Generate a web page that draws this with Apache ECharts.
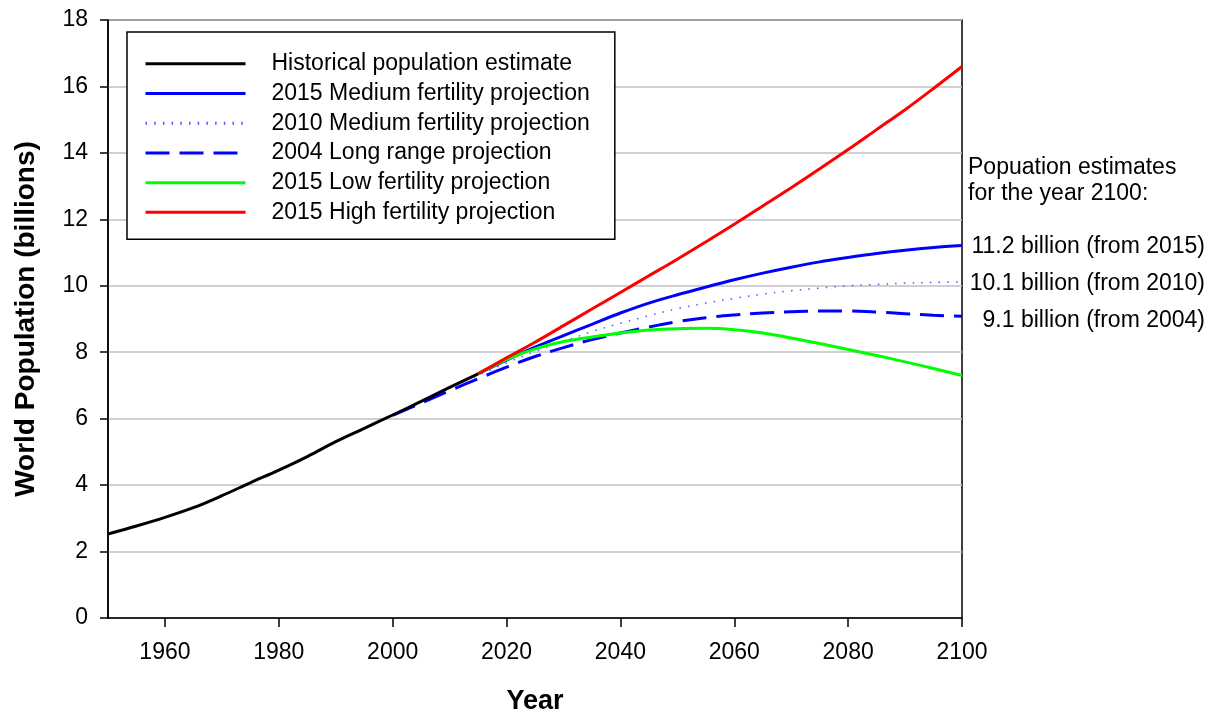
<!DOCTYPE html>
<html>
<head>
<meta charset="utf-8">
<script src="https://cdn.jsdelivr.net/npm/echarts@6/dist/echarts.min.js"></script>
<style>
  html, body { margin: 0; padding: 0; background: #fff; }
  #chart { width: 1215px; height: 713px; }
</style>
</head>
<body>
<div id="chart"></div>
<script>
// ---- data (billions) ----
const histYears   = [1950, 1955, 1960, 1965, 1970, 1975, 1980, 1985, 1990, 1995, 2000, 2005, 2010, 2015];
const histValues  = [2.53, 2.77, 3.03, 3.32, 3.68, 4.07, 4.45, 4.86, 5.31, 5.71, 6.11, 6.52, 6.94, 7.35];

const projYears   = [2015, 2020, 2025, 2030, 2035, 2040, 2045, 2050, 2055, 2060, 2065, 2070, 2075, 2080, 2085, 2090, 2095, 2100];
const med2015     = [7.35, 7.76, 8.15, 8.50, 8.84, 9.18, 9.48, 9.73, 9.96, 10.18, 10.38, 10.56, 10.72, 10.85, 10.97, 11.07, 11.15, 11.21];
const low2015     = [7.35, 7.78, 8.10, 8.32, 8.46, 8.58, 8.67, 8.71, 8.72, 8.68, 8.58, 8.43, 8.26, 8.08, 7.90, 7.71, 7.51, 7.30];
const high2015    = [7.35, 7.83, 8.30, 8.80, 9.30, 9.80, 10.30, 10.80, 11.32, 11.85, 12.40, 12.95, 13.52, 14.10, 14.70, 15.30, 15.94, 16.60];

const med2010Years  = [2010, 2015, 2020, 2025, 2030, 2035, 2040, 2045, 2050, 2055, 2060, 2065, 2070, 2075, 2080, 2085, 2090, 2095, 2100];
const med2010       = [6.93, 7.30, 7.68, 8.02, 8.32, 8.62, 8.87, 9.10, 9.31, 9.48, 9.62, 9.75, 9.85, 9.93, 10.00, 10.04, 10.08, 10.10, 10.12];

const lr2004Years   = [2000, 2005, 2010, 2015, 2020, 2025, 2030, 2035, 2040, 2045, 2050, 2055, 2060, 2065, 2070, 2075, 2080, 2085, 2090, 2095, 2100];
const lr2004        = [6.10, 6.47, 6.84, 7.20, 7.55, 7.87, 8.14, 8.38, 8.58, 8.76, 8.92, 9.04, 9.12, 9.18, 9.22, 9.24, 9.24, 9.21, 9.16, 9.11, 9.08];

const xTickLabels = [1960, 1980, 2000, 2020, 2040, 2060, 2080, 2100];

const seriesNames = [
  'Historical population estimate',
  '2015 Medium fertility projection',
  '2010 Medium fertility projection',
  '2004 Long range projection',
  '2015 Low fertility projection',
  '2015 High fertility projection'
];

const noteLines = ['Popuation estimates', 'for the year 2100:'];
const endNotes = ['11.2 billion (from 2015)', '10.1 billion (from 2010)', '9.1 billion (from 2004)'];

function pairs(xs, ys) { return xs.map((x, i) => [x, ys[i]]); }

const FONT = 'Liberation Sans, Arial, sans-serif';
const chart = echarts.init(document.getElementById('chart'), null, { renderer: 'canvas' });

function line(name, xs, ys, color, width, type, z) {
  return {
    name: name, type: 'line', data: pairs(xs, ys),
    symbol: 'none', showSymbol: false, smooth: 0.35, z: z,
    lineStyle: { color: color, width: width, type: type },
    itemStyle: { color: color },
    emphasis: { disabled: true },
    animation: false
  };
}

const option = {
  animation: false,
  backgroundColor: '#fff',
  grid: { left: 108, right: 253, top: 20, bottom: 95, show: true, borderColor: '#000', borderWidth: 1.5,
          containLabel: false, outerBoundsMode: 'none' },
  xAxis: {
    type: 'value', min: 1950, max: 2100,
    name: 'Year', nameLocation: 'middle', nameGap: 70,
    nameTextStyle: { fontFamily: FONT, fontSize: 27, fontWeight: 'bold', color: '#000' },
    axisLine: { lineStyle: { color: '#000', width: 1.5 } },
    axisTick: { show: true, length: 9, customValues: xTickLabels, lineStyle: { color: '#000', width: 1.5 } },
    axisLabel: { customValues: xTickLabels, formatter: v => String(v), margin: 23, fontFamily: FONT, fontSize: 23, color: '#000' },
    splitLine: { show: false }
  },
  yAxis: {
    type: 'value', min: 0, max: 18, interval: 2,
    name: 'World Population (billions)', nameLocation: 'middle', nameGap: 68,
    nameTextStyle: { fontFamily: FONT, fontSize: 28, fontWeight: 'bold', color: '#000' },
    axisLine: { show: true, lineStyle: { color: '#000', width: 1.5 } },
    axisTick: { show: true, length: 8, lineStyle: { color: '#000', width: 1.5 } },
    axisLabel: { margin: 20, fontFamily: FONT, fontSize: 23, color: '#000' },
    splitLine: { show: true, lineStyle: { color: '#c0c0c0', width: 1.5 } }
  },
  legend: {
    data: seriesNames,
    orient: 'vertical', left: 127, top: 32,
    backgroundColor: '#fff', borderColor: '#000', borderWidth: 1.5, borderRadius: 0,
    padding: [17, 25, 12, 17],
    itemWidth: 100, itemHeight: 14, itemGap: 0,
    itemStyle: { opacity: 0 },
    lineStyle: { width: 3 },
    textStyle: { fontFamily: FONT, fontSize: 23, color: '#000', lineHeight: 29.7, padding: [0, 0, 0, 21] },
    selectedMode: false
  },
  series: [
    line(seriesNames[3], lr2004Years, lr2004, '#0000ff', 3, [24, 10], 2),
    line(seriesNames[2], med2010Years, med2010, '#5555ff', 1.5, [1.5, 7.2], 3),
    line(seriesNames[1], projYears, med2015, '#0000ff', 3, 'solid', 4),
    line(seriesNames[4], projYears, low2015, '#00ff00', 3, 'solid', 5),
    line(seriesNames[5], projYears, high2015, '#ff0000', 3, 'solid', 6),
    line(seriesNames[0], histYears, histValues, '#000000', 3, 'solid', 7)
  ],
  graphic: [
    { type: 'text', left: 968, top: 156, style: { text: noteLines[0], font: '23px ' + FONT, fill: '#000' } },
    { type: 'text', left: 968, top: 182, style: { text: noteLines[1], font: '23px ' + FONT, fill: '#000' } },
    { type: 'text', right: 10, top: 235, style: { text: endNotes[0], font: '23px ' + FONT, fill: '#000' } },
    { type: 'text', right: 10, top: 272, style: { text: endNotes[1], font: '23px ' + FONT, fill: '#000' } },
    { type: 'text', right: 10, top: 309, style: { text: endNotes[2], font: '23px ' + FONT, fill: '#000' } }
  ]
};
chart.setOption(option);
</script>
</body>
</html>
